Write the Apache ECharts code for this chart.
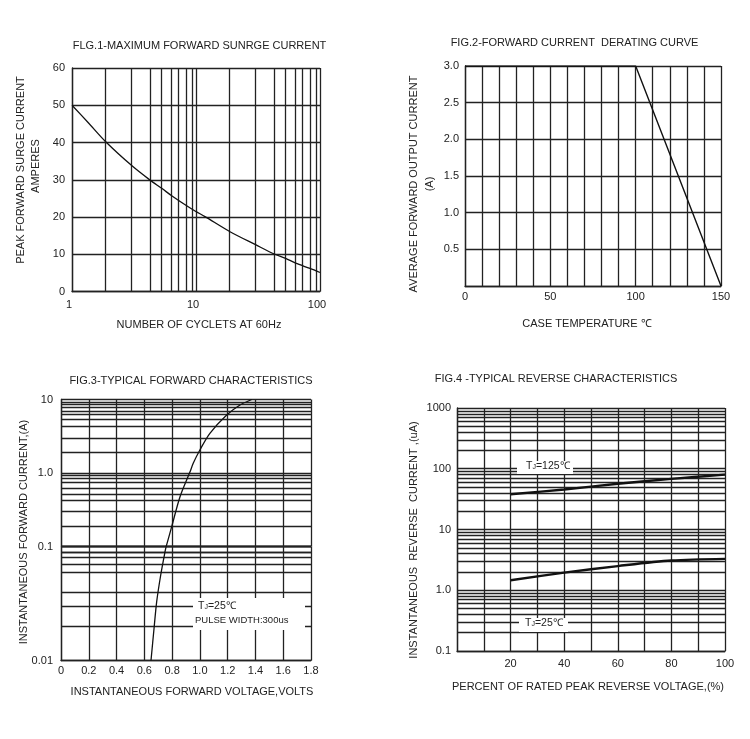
<!DOCTYPE html>
<html><head><meta charset="utf-8">
<style>html,body{margin:0;padding:0;background:#fff}#c{width:750px;height:739px}</style>
<script src="https://cdn.jsdelivr.net/npm/echarts@6/dist/echarts.min.js"></script>
</head><body><div id="c"></div>
<script>
// ---- Figure 1
const fig1Cycles = [1, 1.354, 1.87, 3.03, 4.26, 5.29, 6.37, 8.41, 9.82, 11.82, 18.8, 30.5, 42.8, 52.9, 63.7, 83, 100];
const fig1Amps = [50, 45.3, 40.2, 33.8, 29.9, 27.7, 25.7, 23, 21.6, 20.1, 16.05, 12.5, 10.07, 8.9, 7.6, 6.2, 5.1];
const fig1MinorX = [1.85, 3, 4.26, 5.25, 6.3, 7.2, 8.3, 9.3, 18.7, 30, 42.8, 52.5, 63, 72, 83, 93];
// ---- Figure 2
const fig2Temp = [0, 100, 150];
const fig2Amps = [3, 3, 0];
const fig2TickX = [0, 50, 100, 150];
// ---- Figure 3 (the lower decade is drawn taller than the upper two in the source)
const fig3VoltLow = [0.648, 0.67, 0.689, 0.718, 0.749, 0.757];
const fig3AmpsLow = [0.01, 0.0192, 0.0329, 0.0564, 0.0903, 0.1];
const fig3VoltHigh = [0.757, 0.797, 0.857, 0.929, 0.952, 1.0, 1.072, 1.193, 1.289, 1.373];
const fig3AmpsHigh = [0.1, 0.187, 0.478, 1.04, 1.36, 2.06, 3.47, 6.16, 8.42, 10];
const fig3MinorHigh = [0.19, 0.3, 0.43, 0.52, 0.62, 0.74, 0.85, 0.93, 1.9, 3, 4.33, 5.33, 6.3, 7, 7.94, 8.64, 9.3];
const fig3MinorLow = [0.0189, 0.0303, 0.0436, 0.0593, 0.0663, 0.0762, 0.0856, 0.0904, 0.0955];
const fig3TickX = ['0', '0.2', '0.4', '0.6', '0.8', '1.0', '1.2', '1.4', '1.6', '1.8'];
// ---- Figure 4
const fig4Pct = [20, 40, 60, 80, 100];
const fig4Hot = [38, 45.6, 56.6, 68, 80];
const fig4Cold = [1.46, 1.95, 2.5, 3.08, 3.28];
const fig4Minor = [0.2, 0.3, 0.4, 0.5, 0.6, 0.7, 0.8, 0.9, 2, 3, 4, 5, 6, 7, 8, 9, 20, 30, 40, 50, 60, 70, 80, 90, 200, 300, 400, 500, 600, 700, 800, 900];
const fig4TickX = [20, 40, 60, 80, 100];

const FONT = 'Liberation Sans';
const INK = '#222';
const TXT = '#222';
const RULE = 1.3;
const pairs = (xs, ys) => xs.map((x, i) => [x, ys[i]]);

function frame(idx, min, max, extra) {
  return Object.assign({
    gridIndex: idx, min, max,
    axisLine: {show: true, onZero: false, lineStyle: {color: INK, width: RULE}},
    axisTick: {show: false},
    axisLabel: {color: TXT, fontFamily: FONT, fontSize: 11, margin: 7, showMinLabel: true, showMaxLabel: true, hideOverlap: false},
    splitLine: {show: true, showMinLine: true, showMaxLine: true, lineStyle: {color: INK, width: RULE}},
    minorTick: {show: false}, minorSplitLine: {show: false}
  }, extra);
}
function rules(xi, yi, xs, ys) {
  const data = xs.map(v => ({xAxis: v})).concat(ys.map(v => ({yAxis: v})));
  return {type: 'line', xAxisIndex: xi, yAxisIndex: yi, data: [], z: 1, silent: true,
    markLine: {silent: true, symbol: 'none', animation: false, label: {show: false},
      lineStyle: {color: INK, width: RULE, type: 'solid'}, emphasis: {disabled: true}, data}};
}
function curve(name, xi, yi, xs, ys, width, smooth) {
  return {name, type: 'line', xAxisIndex: xi, yAxisIndex: yi, data: pairs(xs, ys), z: 5,
    symbol: 'none', smooth, animation: false, clip: true, lineStyle: {color: '#111', width}};
}
function label(text, x, y, rotate) {
  return {type: 'text', x, y, rotation: rotate ? Math.PI / 2 : 0, z: 20,
    style: {text, x: 0, y: 0, align: 'center', verticalAlign: 'middle', fill: TXT, font: '11px "' + FONT + '"'}};
}
function tj(sub, x, y) {
  return {type: 'text', x, y, z: 21, style: {
    rich: {a: {fontSize: 10.5, fontFamily: FONT, fill: TXT}, s: {fontSize: 7, fontFamily: FONT, fill: TXT, padding: [2, 0, 0, 0]}},
    text: '{a|T}{s|J}{a|=' + sub + '℃}', verticalAlign: 'middle'}};
}
function white(x, y, width, height) {
  return {type: 'rect', z: 19, shape: {x, y, width, height}, style: {fill: '#fff'}};
}

const d3Split = 546.7;
const option = {
  animation: false,
  backgroundColor: '#fff',
  title: [
    ['FLG.1-MAXIMUM FORWARD SUNRGE CURRENT', 199.5, 40],
    ['FIG.2-FORWARD CURRENT  DERATING CURVE', 574.5, 37],
    ['FIG.3-TYPICAL FORWARD CHARACTERISTICS', 191, 375],
    ['FIG.4 -TYPICAL REVERSE CHARACTERISTICS', 556, 373]
  ].map(([text, cx, top]) => ({text, left: cx, top, padding: 0, textAlign: 'center',
    textStyle: {fontFamily: FONT, fontSize: 11, fontWeight: 'normal', color: TXT}})),
  grid: [
    {left: 72, top: 68, width: 248, height: 223.5},
    {left: 465, top: 66, width: 256, height: 220},
    {left: 61, top: 399.5, width: 250, height: d3Split - 399.5},
    {left: 61, top: d3Split, width: 250, height: 660.5 - d3Split},
    {left: 457, top: 408, width: 268, height: 243}
  ],
  xAxis: [
    frame(0, 1, 100, {type: 'log', logBase: 10, axisLabel: {color: TXT, fontFamily: FONT, fontSize: 11, margin: 8, padding: [0, 6, 0, 0]}}),
    frame(1, 0, 150, {type: 'value', interval: 10, axisLabel: {color: TXT, fontFamily: FONT, fontSize: 11, margin: 5,
      formatter: v => fig2TickX.includes(v) ? String(v) : ''}}),
    frame(2, 0, 1.8, {type: 'value', interval: 0.2, axisLine: {show: false}, axisLabel: {show: false}}),
    frame(3, 0, 1.8, {type: 'value', interval: 0.2, axisLabel: {color: TXT, fontFamily: FONT, fontSize: 11, margin: 5,
      formatter: v => fig3TickX[Math.round(v / 0.2)]}}),
    frame(4, 0, 100, {type: 'value', interval: 10, axisLabel: {color: TXT, fontFamily: FONT, fontSize: 11, margin: 7,
      formatter: v => fig4TickX.includes(v) ? String(v) : ''}})
  ],
  yAxis: [
    frame(0, 0, 60, {type: 'value', interval: 10}),
    frame(1, 0, 3, {type: 'value', interval: 0.5, axisLabel: {color: TXT, fontFamily: FONT, fontSize: 11, margin: 6,
      formatter: v => v === 0 ? '' : v.toFixed(1)}}),
    frame(2, 0.1, 10, {type: 'log', logBase: 10, axisLabel: {color: TXT, fontFamily: FONT, fontSize: 11, margin: 8,
      formatter: v => v >= 10 ? '10' : v >= 1 ? '1.0' : '0.1'}}),
    frame(3, 0.01, 0.1, {type: 'log', logBase: 10, axisLabel: {color: TXT, fontFamily: FONT, fontSize: 11, margin: 8,
      formatter: v => v < 0.05 ? '0.01' : ''}}),
    frame(4, 0.1, 1000, {type: 'log', logBase: 10, axisLabel: {color: TXT, fontFamily: FONT, fontSize: 11, margin: 6,
      formatter: v => v < 0.5 ? '0.1' : v < 5 ? '1.0' : String(Math.round(v))}})
  ],
  series: [
    rules(0, 0, fig1MinorX, []),
    curve('Surge current', 0, 0, fig1Cycles, fig1Amps, 1.3, 0.3),
    curve('Derating', 1, 1, fig2Temp, fig2Amps, 1.4, false),
    rules(2, 2, [], fig3MinorHigh),
    rules(3, 3, [], fig3MinorLow),
    curve('Forward upper', 2, 2, fig3VoltHigh, fig3AmpsHigh, 1.3, 0.3),
    curve('Forward lower', 3, 3, fig3VoltLow, fig3AmpsLow, 1.3, 0.3),
    rules(4, 4, [], fig4Minor),
    curve('Tj=125C', 4, 4, fig4Pct, fig4Hot, 2.4, 0.3),
    curve('Tj=25C', 4, 4, fig4Pct, fig4Cold, 2.4, 0.3)
  ],
  graphic: [
    label('PEAK FORWARD SURGE CURRENT', 21, 170, true),
    label('AMPERES', 36, 166, true),
    label('NUMBER OF CYCLETS AT 60Hz', 199, 325),
    label('AVERAGE FORWARD OUTPUT CURRENT', 414, 184, true),
    label('(A)', 430, 184, true),
    label('CASE TEMPERATURE ℃', 587, 324),
    label('INSTANTANEOUS FORWARD CURRENT,(A)', 24, 532, true),
    label('INSTANTANEOUS FORWARD VOLTAGE,VOLTS', 192, 692),
    label('INSTANTANEOUS  REVERSE  CURRENT ,(uA)', 414, 540, true),
    label('PERCENT OF RATED PEAK REVERSE VOLTAGE,(%)', 588, 687),
    white(193, 598, 112, 32),
    tj('25', 198, 606.5),
    {type: 'text', x: 195, y: 620.5, z: 21, style: {text: 'PULSE WIDTH:300us', verticalAlign: 'middle', fill: TXT, font: '9.5px "' + FONT + '"'}},
    white(517, 461, 56, 13),
    tj('125', 526, 466.5),
    white(519, 618, 49, 14),
    tj('25', 525, 623)
  ]
};
echarts.init(document.getElementById('c'), null, {renderer: 'canvas'}).setOption(option);
</script></body></html>
